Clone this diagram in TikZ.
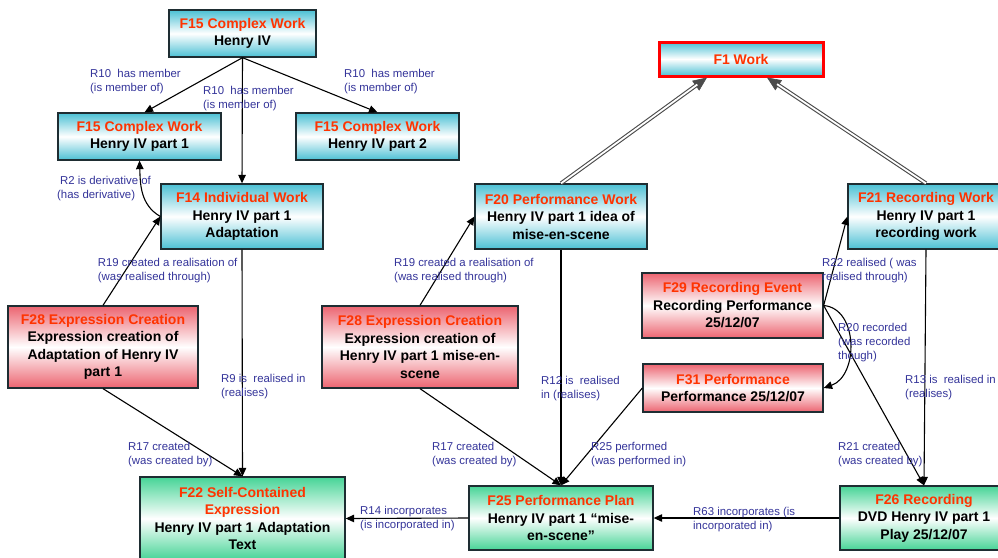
\documentclass[tikz,border=0pt]{standalone}
\usepackage{fontspec}
\setmainfont{Liberation Sans}
\usetikzlibrary{arrows.meta,calc}
\definecolor{ttlred}{RGB}{255,51,0}
\definecolor{lblblue}{RGB}{51,51,153}
\definecolor{cyanC}{RGB}{75,192,212}
\definecolor{redC}{RGB}{236,100,112}
\definecolor{greenC}{RGB}{70,212,150}
\definecolor{borderC}{RGB}{30,45,50}
\definecolor{isaC}{RGB}{75,75,75}
\newcommand{\ttl}[1]{\textcolor{ttlred}{#1}}
\newcommand{\lstrut}{\rule{0pt}{9pt}}
\begin{document}
\begin{tikzpicture}[x=1pt,y=-1pt,
  box/.style={draw=borderC, line width=1.3pt, rectangle, inner sep=0pt, align=center, font=\fontsize{14}{17.5}\selectfont\bfseries, text=black},
  cyanbox/.style={box, top color=cyanC, bottom color=cyanC, middle color=white},
  redbox/.style={box, top color=redC, bottom color=redC, middle color=white},
  greenbox/.style={box, top color=greenC, bottom color=greenC, middle color=white},
  lbl/.style={anchor=north west, inner sep=0pt, align=left, text=lblblue, font=\fontsize{11.4}{14}\selectfont},
  rel/.style={draw=black, line width=1.1pt, -{Triangle[length=8.5pt,width=7.5pt]}},
  isatip/.style={draw=isaC, fill=isaC, line width=0.6pt, -{Triangle[length=14pt,width=12pt]}},
  isa/.style={draw=isaC, line width=1.1pt, double=white, double distance=1.8pt, shorten >=12pt},
]
\useasboundingbox (0,0) rectangle (998,557);

% nodes
\node[cyanbox, minimum width=147pt, minimum height=47pt] (a) at (242.5,33.5) {\ttl{F15 Complex Work}\\Henry IV};
\node[cyanbox, minimum width=163pt, minimum height=47pt] (b) at (139.5,136.5) {\ttl{F15 Complex Work}\\Henry IV part 1};
\node[cyanbox, minimum width=163pt, minimum height=47pt] (c) at (377.5,136.5) {\ttl{F15 Complex Work}\\Henry IV part 2};
\node[cyanbox, minimum width=162pt, minimum height=65pt] (d) at (242,216.5) {\ttl{F14 Individual Work}\\Henry IV part 1\\Adaptation};
\node[redbox, minimum width=190pt, minimum height=82pt] (e) at (103,347) {\ttl{F28 Expression Creation}\\Expression creation of\\Adaptation of Henry IV\\part 1};
\node[redbox, minimum width=196pt, minimum height=82pt] (f) at (420,347) {\ttl{F28 Expression Creation}\\Expression creation of\\Henry IV part 1 mise-en-\\scene};
\node[cyanbox, minimum width=172pt, minimum height=65pt] (g) at (561,216.5) {\ttl{F20 Performance Work}\\Henry IV part 1 idea of\\mise-en-scene};
\node[cyanbox, draw=red, line width=3pt, minimum width=164pt, minimum height=34pt] (h) at (741,59) {\ttl{F1 Work}};
\node[cyanbox, minimum width=156pt, minimum height=65pt] (i) at (926,216.5) {\ttl{F21 Recording Work}\\Henry IV part 1\\recording work};
\node[redbox, minimum width=181pt, minimum height=65pt] (j) at (732.5,305.5) {\ttl{F29 Recording Event}\\Recording Performance\\25/12/07};
\node[redbox, minimum width=180pt, minimum height=48pt] (k) at (733,388) {\ttl{F31 Performance}\\Performance 25/12/07};
\node[greenbox, minimum width=205pt, minimum height=83pt] (l) at (242.5,518.5) {\ttl{F22 Self-Contained}\\\ttl{Expression}\\Henry IV part 1 Adaptation\\Text};
\node[greenbox, minimum width=184pt, minimum height=64pt] (m) at (561,518) {\ttl{F25 Performance Plan}\\Henry IV part 1 “mise-\\en-scene”};
\node[greenbox, minimum width=168pt, minimum height=64pt] (n) at (924,518) {\ttl{F26 Recording}\\DVD Henry IV part 1\\Play 25/12/07};

% connectors
\draw[rel] (a.south) -- ($(b.north)+(5,0)$);
\draw[rel] (a.south) -- (d.north);
\draw[rel] (a.south) -- (c.north);
\draw[rel] (d.west) to[out=150,in=-88] (b.south);
\draw[rel] (e.north) -- (d.west);
\draw[rel] (d.south) -- (l.north);
\draw[rel] (e.south) -- (l.north);
\draw[rel] (f.north) -- (g.west);
\draw[rel] (g.south) -- (m.north);
\draw[rel] (f.south) -- (m.north);
\draw[rel] (k.west) -- (m.north);
\draw[isatip] (g.north) -- ($(h.south)+(-34,0)$);
\draw[isa] (g.north) -- ($(h.south)+(-34,0)$);
\draw[isatip] (i.north) -- ($(h.south)+(26,0)$);
\draw[isa] (i.north) -- ($(h.south)+(26,0)$);
\draw[rel] (j.east) -- (i.west);
\draw[rel] (j.east) .. controls +(35,3) and +(35,-12) .. (k.east);
\draw[rel] (j.east) -- (n.north);
\draw[rel] (i.south) -- (n.north);
\draw[rel] (n.west) -- (m.east);
\draw[rel] (m.west) -- (l.east);

% labels
\node[lbl] (l1) at (90,68.5) {\lstrut R10\ \ has member\\(is member of)};
\node[lbl] (l2) at (203,85) {\lstrut R10\ \ has member\\(is member of)};
\node[lbl] (l3) at (344,68.5) {\lstrut R10\ \ has member\\(is member of)};
\node[lbl] (l4) at (60,175.3) {\lstrut R2 is derivative of\\\hspace*{-3pt}(has derivative)};
\node[lbl] (l5) at (97.7,257) {\lstrut R19 created a realisation of\\(was realised through)};
\node[lbl] (l6) at (221,373) {\lstrut R9 is\ \ realised in\\(realises)};
\node[lbl] (l7) at (128,441) {\lstrut R17 created\\(was created by)};
\node[lbl] (l8) at (360,505) {\lstrut R14 incorporates\\(is incorporated in)};
\node[lbl] (l9) at (394,257) {\lstrut R19 created a realisation of\\(was realised through)};
\node[lbl] (l10) at (432,441) {\lstrut R17 created\\(was created by)};
\node[lbl] (l11) at (541,375) {\lstrut R12 is\ \ realised\\in (realises)};
\node[lbl] (l12) at (591,441) {\lstrut R25 performed\\(was performed in)};
\node[lbl] (l13) at (822,257) {\lstrut R22 realised ( was\\realised through)};
\node[lbl] (l14) at (838,322.7) {\lstrut R20 recorded\\(was recorded\\though)};
\node[lbl] (l15) at (905,374) {\lstrut R13 is\ \ realised in\\(realises)};
\node[lbl] (l16) at (838,441) {\lstrut R21 created\\(was created by)};
\node[lbl] (l17) at (693,506.7) {\lstrut R63 incorporates (is\\incorporated in)};
\end{tikzpicture}
\end{document}
